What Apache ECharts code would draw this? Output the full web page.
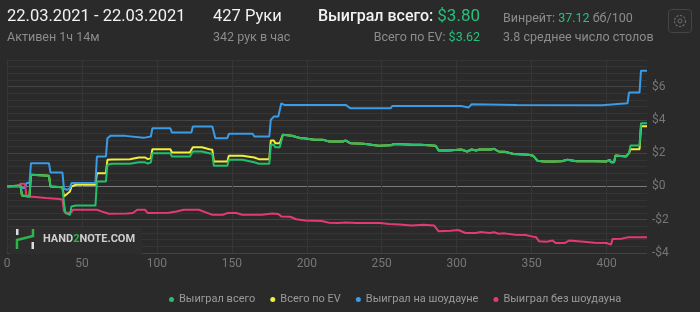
<!DOCTYPE html>
<html>
<head>
<meta charset="utf-8">
<script src="https://cdn.jsdelivr.net/npm/echarts@6/dist/echarts.min.js"></script>
<style>
html,body{margin:0;padding:0;background:#2a2a2a;}
#c{width:700px;height:312px;}
</style>
</head>
<body>
<div id="c"></div>
<script>
// ---- header texts ----
const dateRange = '22.03.2021 - 22.03.2021';
const activeText = 'Активен 1ч 14м';
const handsText = '427 Руки';
const handsPerHour = '342 рук в час';
const totalLabel = 'Выиграл всего: ';
const totalValue = '$3.80';
const evLabel = 'Всего по EV: ';
const evValue = '$3.62';
const winrateLabel = 'Винрейт: ';
const winrateValue = '37.12';
const winrateUnit = ' бб/100';
const tablesText = '3.8 среднее число столов';

// ---- series names ----
const seriesNames = ['Выиграл всего', 'Всего по EV', 'Выиграл на шоудауне', 'Выиграл без шоудауна'];

// ---- axes ----
const handsMax = 427;
const xTickStep = 50;
const yMin = -4, yMax = 7.6, yStep = 0.4, yLabelStep = 2;

// ---- data: [hand, dollars] ----
const totalWon = [[0,0],[9,0.05],[10,-0.55],[15,-0.6],[16,0.7],[28,0.65],[29,0.0],[37,-0.05],[38,-1.0],[39,-1.6],[42,-1.7],[43,-1.2],[46,-1.15],[59,-1.15],[60,0.3],[66,0.3],[67,1.3],[70,1.36],[82,1.36],[88,1.45],[92,1.45],[94,1.38],[96,1.45],[97,2.0],[109,2.0],[110,1.8],[122,1.8],[124,2.1],[130,2.1],[135,2.0],[137,1.95],[138,1.24],[147,1.24],[148,1.6],[157,1.6],[158,1.5],[165,1.45],[168,1.36],[175,1.36],[176,2.5],[178,2.5],[179,2.35],[182,2.35],[184,3.1],[190,3.05],[196,2.9],[198,2.9],[205,2.8],[211,2.8],[215,2.7],[224,2.7],[226,2.76],[229,2.6],[238,2.56],[248,2.45],[256,2.47],[258,2.55],[271,2.5],[276,2.5],[286,2.45],[288,2.16],[295,2.16],[296,2.22],[303,2.22],[307,2.1],[310,2.22],[313,2.16],[315,2.22],[323,2.22],[325,2.26],[328,2.1],[332,2.08],[338,1.95],[348,1.9],[351,1.85],[354,1.54],[358,1.5],[365,1.5],[370,1.52],[374,1.6],[380,1.52],[392,1.52],[400,1.5],[401,1.48],[402,1.6],[403,1.45],[405,1.45],[406,1.86],[413,1.8],[415,2.0],[416,2.46],[422,2.46],[423,3.8],[427,3.8]];

const evEarly = [[0,0],[9,0.05],[10,-0.55],[15,-0.6],[16,0.7],[28,0.65],[29,0.0],[37,-0.05],[38,-0.6],[40,-0.45],[42,-0.3],[43,0.0],[46,0.1],[59,0.1],[60,0.8],[66,0.8],[67,1.6],[70,1.62],[82,1.64],[88,1.74],[92,1.74],[94,1.64],[96,1.7],[97,2.24],[109,2.24],[110,2.04],[122,2.04],[124,2.36],[130,2.36],[135,2.24],[137,2.2],[138,1.5],[147,1.5],[148,1.84],[157,1.84],[158,1.76],[165,1.74],[168,1.64],[175,1.64],[176,2.76],[178,2.76],[179,2.6],[182,2.6]];
const evLate = [[416,2.24],[422,2.24],[423,3.62],[427,3.62]];
// between hands 184 and 415 the EV line lies on the total-won line
const evTotal = evEarly.concat(totalWon.filter(p => p[0] >= 184 && p[0] <= 415), evLate);

const showdownWon = [[0,0],[8,0],[10,-0.1],[12,-0.1],[13,0.2],[15,0.2],[16,1.4],[28,1.4],[29,0.84],[37,0.84],[38,-0.14],[40,-0.2],[42,-0.1],[43,0.2],[59,0.2],[60,1.8],[66,1.8],[67,2.9],[69,3.04],[79,3.04],[80,2.92],[91,2.92],[92,3.0],[96,3.0],[97,3.5],[109,3.5],[110,3.24],[123,3.24],[124,3.6],[137,3.6],[139,2.9],[147,2.9],[148,3.16],[164,3.16],[165,3.0],[175,3.0],[176,4.0],[178,4.2],[181,4.2],[183,5.0],[185,4.9],[226,4.9],[229,4.7],[256,4.7],[257,4.84],[303,4.84],[304,4.75],[308,4.75],[310,4.94],[340,4.9],[397,4.88],[398,5.0],[414,5.0],[415,5.64],[422,5.64],[423,6.96],[427,6.96]];

const nonShowdownWon = [[0,0],[7,0.0],[9,0.16],[12,0.16],[13,-0.6],[19,-0.64],[26,-0.7],[35,-0.76],[37,-0.8],[38,-1.5],[40,-1.6],[43,-1.55],[44,-1.4],[60,-1.4],[63,-1.5],[68,-1.64],[80,-1.62],[84,-1.6],[87,-1.4],[92,-1.4],[94,-1.6],[108,-1.58],[113,-1.5],[118,-1.4],[128,-1.4],[134,-1.6],[137,-1.7],[144,-1.7],[147,-1.6],[153,-1.6],[157,-1.7],[170,-1.7],[177,-1.62],[181,-1.66],[183,-1.8],[189,-1.82],[193,-1.97],[199,-2.04],[210,-2.08],[215,-2.18],[221,-2.2],[226,-2.16],[233,-2.2],[249,-2.2],[255,-2.25],[262,-2.28],[270,-2.35],[278,-2.3],[285,-2.35],[288,-2.7],[296,-2.66],[301,-2.62],[306,-2.8],[313,-2.8],[316,-2.74],[322,-2.8],[325,-2.75],[328,-2.84],[332,-2.82],[339,-2.9],[346,-2.92],[350,-3.0],[353,-3.05],[355,-3.3],[360,-3.32],[364,-3.25],[366,-3.4],[372,-3.4],[375,-3.25],[385,-3.32],[392,-3.38],[400,-3.4],[401,-3.5],[403,-3.5],[404,-3.16],[410,-3.14],[414,-3.06],[427,-3.06]];

// ---- styles ----
const colors = ['#22c06a', '#f2ee3c', '#3a9be6', '#e33a6f'];
const FONT = 'Roboto, "Noto Sans", sans-serif';
const nTicks = Math.round((yMax - yMin) / yStep);
const gridColors = [];
for (let i = 0; i <= nTicks; i++) {
  const v = yMin + i * yStep;
  if (Math.abs(v) < 1e-6) gridColors.push('#7a7a7a');
  else if (Math.abs(v / yLabelStep - Math.round(v / yLabelStep)) < 1e-6 && i !== nTicks) gridColors.push('#434343');
  else gridColors.push('#353535');
}

const chart = echarts.init(document.getElementById('c'), null, {renderer: 'canvas'});

function lineSeries(i, data, z) {
  return {
    name: seriesNames[i], type: 'line', data: data, showSymbol: false, symbol: 'none',
    z: z, lineStyle: {color: colors[i], width: 2}, itemStyle: {color: colors[i]},
    animation: false
  };
}

chart.setOption({
  backgroundColor: '#2a2a2a',
  animation: false,
  grid: {left: 7, right: 53, top: 60, bottom: 59, containLabel: false},
  xAxis: {
    type: 'value', min: 0, max: handsMax, interval: xTickStep,
    axisLine: {show: false}, axisTick: {show: false},
    axisLabel: {color: '#777', fontSize: 12, fontFamily: FONT, margin: 5, showMaxLabel: false},
    splitLine: {show: true, showMaxLine: false, lineStyle: {color: '#363636', width: 1}}
  },
  yAxis: {
    type: 'value', position: 'right', min: yMin, max: yMax, interval: yStep,
    axisLine: {show: false}, axisTick: {show: false},
    axisLabel: {
      color: '#777', fontSize: 12, fontFamily: FONT, margin: 5,
      formatter: function (v) {
        if (Math.abs(v / yLabelStep - Math.round(v / yLabelStep)) > 1e-6) return '';
        const r = Math.round(v);
        return r < 0 ? '-$' + (-r) : '$' + r;
      }
    },
    splitLine: {show: true, lineStyle: {color: gridColors, width: 1}}
  },
  legend: {
    data: seriesNames, left: 164, top: 289, icon: 'circle', itemWidth: 5, itemHeight: 5,
    itemGap: 15, textStyle: {color: '#9a9a9a', fontSize: 11, fontFamily: FONT}
  },
  series: [
    lineSeries(0, totalWon, 4),
    lineSeries(1, evTotal, 3),
    lineSeries(2, showdownWon, 3),
    lineSeries(3, nonShowdownWon, 3)
  ],
  graphic: [
    {type: 'text', left: 7, top: 8, style: {text: dateRange, fill: '#f2f2f2', font: '16.5px ' + FONT}},
    {type: 'text', left: 7, top: 31, style: {text: activeText, fill: '#8c8c8c', font: '12.5px ' + FONT}},
    {type: 'text', left: 213, top: 8, style: {text: handsText, fill: '#f2f2f2', font: '16.5px ' + FONT}},
    {type: 'text', left: 213, top: 31, style: {text: handsPerHour, fill: '#8c8c8c', font: '12.5px ' + FONT}},
    {type: 'text', right: 220, top: 8, style: {
      text: '{w|' + totalLabel + '}{g|' + totalValue + '}',
      rich: {w: {fill: '#f2f2f2', font: '500 16px ' + FONT}, g: {fill: '#27c07a', font: '17px ' + FONT}}
    }},
    {type: 'text', right: 220, top: 31, style: {
      text: '{w|' + evLabel + '}{g|' + evValue + '}',
      rich: {w: {fill: '#8c8c8c', font: '12.5px ' + FONT}, g: {fill: '#27c07a', font: '12.5px ' + FONT}}
    }},
    {type: 'text', left: 503, top: 12, style: {
      text: '{w|' + winrateLabel + '}{g|' + winrateValue + '}{w|' + winrateUnit + '}',
      rich: {w: {fill: '#8c8c8c', font: '12.5px ' + FONT}, g: {fill: '#27c07a', font: '12.5px ' + FONT}}
    }},
    {type: 'text', left: 503, top: 31, style: {text: tablesText, fill: '#8c8c8c', font: '12.5px ' + FONT}},
    // settings button
    {type: 'rect', shape: {x: 668.5, y: 9.5, width: 23, height: 23, r: 3}, style: {fill: '#2c2c2c', stroke: '#454545', lineWidth: 1}},
    {type: 'circle', shape: {cx: 680, cy: 21, r: 5.5}, style: {fill: 'none', stroke: '#6a6a6a', lineWidth: 1.2, lineDash: [2.2, 1.4]}},
    {type: 'circle', shape: {cx: 680, cy: 21, r: 2}, style: {fill: 'none', stroke: '#6a6a6a', lineWidth: 1}},
    // watermark
    {type: 'rect', shape: {x: 10, y: 227, width: 132, height: 27}, style: {fill: '#2d2d2d'}, z: 1},
    {type: 'rect', shape: {x: 16, y: 229, width: 2.5, height: 6}, style: {fill: '#dcdcdc'}, z: 10},
    {type: 'polyline', shape: {points: [[17, 249], [17, 240], [33, 236], [33, 229]]}, style: {stroke: '#2fb34a', lineWidth: 2.5, fill: 'none'}, z: 10},
    {type: 'rect', shape: {x: 31.5, y: 242, width: 2.5, height: 7}, style: {fill: '#dcdcdc'}, z: 10},
    {type: 'text', left: 43, top: 234, z: 10, style: {
      text: '{a|HAND}{b|2}{a|NOTE.COM}',
      rich: {a: {fill: '#cfcfcf', font: 'bold 11px ' + FONT}, b: {fill: '#2fb34a', font: 'bold 11px ' + FONT}}
    }}
  ]
});
</script>
</body>
</html>
